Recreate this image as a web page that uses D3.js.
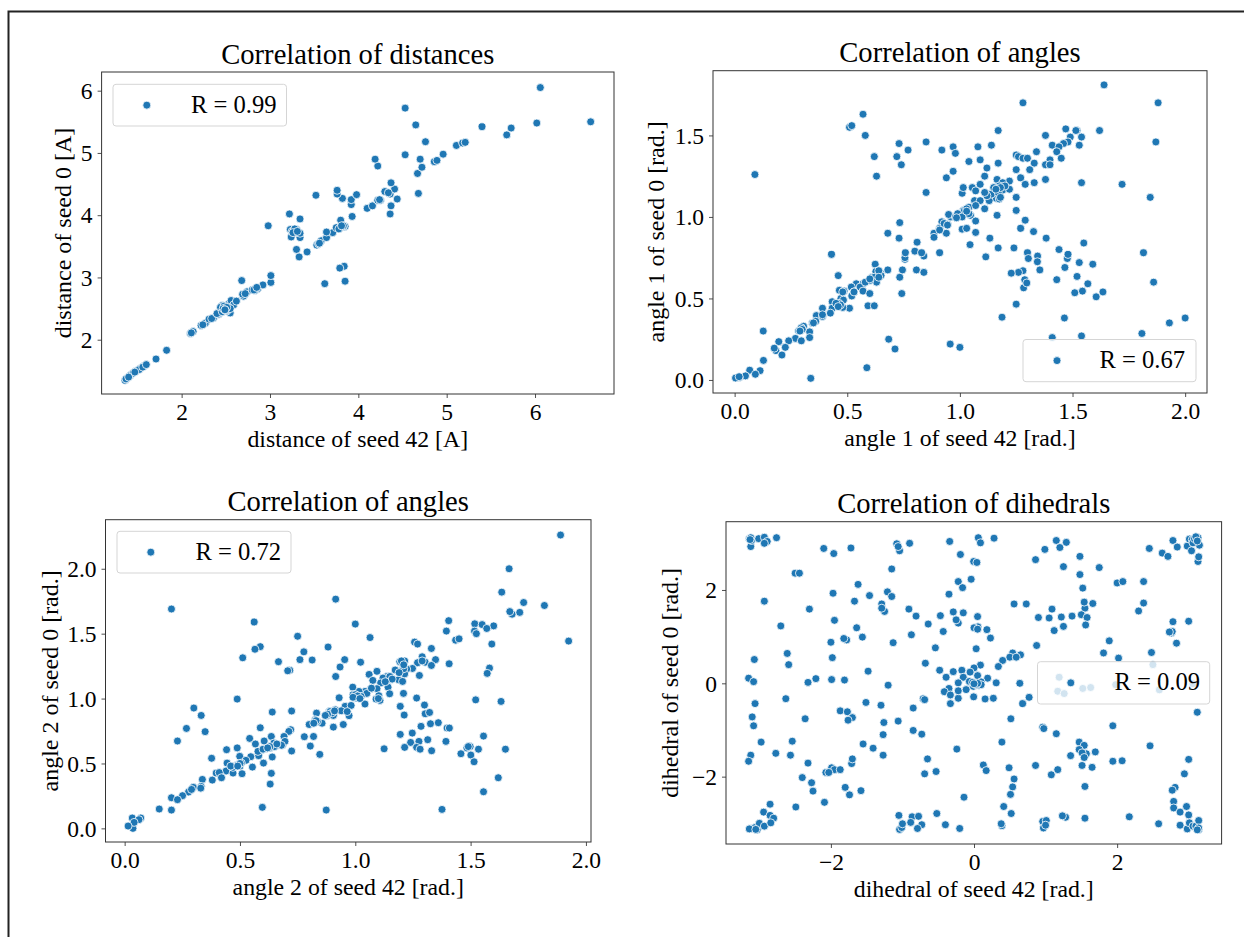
<!DOCTYPE html>
<html>
<head>
<meta charset="utf-8">
<script src="https://cdn.jsdelivr.net/npm/d3@7"></script>
<style>
  html, body { margin: 0; padding: 0; background: #fff; }
  text { font-family: "Liberation Serif", serif; fill: #000; }
</style>
</head>
<body>
<div id="chart"></div>
<script>
// [seed 42, seed 0] pairs
var distPairs = [[1.36,1.35],[1.39,1.39],[1.42,1.43],[1.49,1.50],[1.58,1.58],[1.54,1.54],[1.45,1.46],[1.71,1.69],[1.83,1.83],
  [2.10,2.10],[2.13,2.13],[2.22,2.23],[2.27,2.27],[2.31,2.33],[2.36,2.35],[2.42,2.41],[2.44,2.44],[2.55,2.43],[2.46,2.55],[2.52,2.50],
  [2.48,2.51],[2.53,2.57],[2.56,2.63],[2.59,2.56],[2.45,2.47],[2.51,2.46],[2.49,2.49],[2.62,2.62],[2.70,2.70],[2.69,2.73],[2.74,2.77],
  [2.80,2.80],[2.86,2.82],[2.83,2.79],[2.83,2.82],[2.92,2.88],[3.01,2.92],[3.01,3.03],[2.68,2.95],[2.98,3.83],
  [3.85,2.94],[3.62,2.90],[3.84,3.18],[3.79,3.15],[3.33,3.33],[3.42,3.41],[3.30,3.45],[3.53,3.52],[3.55,3.54],[3.58,3.59],
  [3.24,3.65],[3.34,3.64],[3.64,3.64],[3.71,3.72],[3.64,3.73],[3.34,3.71],[3.23,3.77],[3.30,3.77],[3.25,3.74],[3.27,3.75],
  [3.75,3.80],[3.80,3.81],[3.78,3.78],[3.85,3.82],[3.83,3.82],[3.80,3.92],[3.34,3.94],[3.22,4.02],[3.93,3.98],[4.36,4.02],
  [4.10,4.11],[4.16,4.15],[4.37,4.15],[3.92,4.17],[3.92,4.25],[3.82,4.27],[4.22,4.24],[4.25,4.24],[4.44,4.26],[3.52,4.32],[3.98,4.33],
  [3.76,4.34],[3.76,4.40],[4.36,4.34],[4.30,4.38],[4.41,4.42],[4.37,4.52],[4.68,4.35],[4.67,4.67],[4.72,4.77],[4.22,4.79],[4.86,4.86],
  [4.89,4.88],[4.19,4.90],[4.70,4.90],[4.53,4.97],[4.96,4.98],[5.11,5.12],[5.18,5.16],[5.21,5.17],[4.76,5.18],[5.68,5.29],[5.73,5.40],
  [5.40,5.42],[4.65,5.45],[6.02,5.48],[6.63,5.50],[4.53,5.72],[6.06,6.05]];
// overlapping dots in the crowded spots, drawn last
var distCrowd = [[1.37,1.37],[1.40,1.40],[1.52,1.52],[1.56,1.56],[1.60,1.60],[1.47,1.48],[2.11,2.11],[2.24,2.24],[2.34,2.34],[2.40,2.42],
  [2.44,2.52],[2.48,2.54],[2.53,2.52],[2.46,2.45],[2.50,2.47],[2.55,2.50],[2.47,2.50],[2.51,2.52],[2.49,2.48],[2.72,2.74],[2.82,2.80],[2.85,2.84],
  [3.28,3.78],[3.26,3.72],[3.31,3.74],[3.83,3.83],[3.81,3.83],[3.56,3.55],[4.24,4.25],[4.34,4.36],[2.49,2.48]];

var ang1Pairs = [[1.64,1.81],[1.88,1.70],[1.28,1.70],[0.57,1.63],[0.51,1.55],[0.52,1.56],[1.17,1.53],[1.47,1.54],[1.52,1.53],[1.515,1.53],[1.62,1.53],
  [0.58,1.50],[1.38,1.50],[1.49,1.49],[1.54,1.49],[1.87,1.46],[0.73,1.45],[0.85,1.46],[1.48,1.46],[1.46,1.45],[1.41,1.44],[1.53,1.44],[1.14,1.44],
  [1.08,1.43],[0.97,1.43],[0.92,1.41],[0.77,1.41],[1.44,1.43],[1.43,1.40],[1.34,1.40],[0.98,1.39],[0.72,1.37],[0.62,1.37],[1.25,1.38],[1.26,1.37],
  [1.28,1.36],[1.30,1.36],[1.45,1.36],[1.40,1.35],[1.04,1.34],[1.09,1.35],[1.17,1.33],[1.33,1.33],[0.74,1.32],[1.38,1.32],[1.40,1.32],[1.12,1.30],
  [1.31,1.29],[1.25,1.29],[0.97,1.28],[0.09,1.26],[1.11,1.25],[0.63,1.25],[1.27,1.24],[0.94,1.24],[1.165,1.23],[1.22,1.22],[1.33,1.21],[1.38,1.23],
  [1.09,1.20],[1.54,1.21],[1.29,1.20],[1.72,1.20],[1.19,1.21],[1.01,1.145],[1.015,1.18],[1.055,1.18],[1.07,1.16],[1.175,1.19],[1.15,1.165],[1.19,1.165],
  [1.22,1.17],[1.165,1.17],[0.85,1.15],[1.115,1.145],[1.125,1.135],[1.16,1.115],[1.175,1.11],[1.25,1.12],[1.845,1.12],[1.065,1.10],[1.09,1.10],[1.13,1.10],
  [1.04,1.06],[1.07,1.07],[1.11,1.05],[1.015,1.04],[1.03,1.03],[1.25,1.04],[1.165,1.01],[0.997,1.02],[0.96,1.0],[0.95,1.015],[1.047,1.01],[0.985,0.995],
  [1.29,0.98],[1.07,0.975],[0.733,0.965],[0.92,0.97],[0.945,0.955],[0.91,0.93],[1.01,0.925],[1.03,0.93],[1.27,0.93],[0.68,0.90],[1.07,0.905],[0.885,0.90],
  [0.94,0.90],[1.327,0.91],[0.885,0.875],[0.73,0.87],[1.133,0.87],[1.383,0.87],[0.81,0.845],[1.55,0.84],[1.045,0.83],[1.17,0.81],[1.24,0.81],[1.44,0.80],
  [0.80,0.79],[0.84,0.76],[0.83,0.78],[0.756,0.74],[0.756,0.75],[0.758,0.78],[0.91,0.78],[1.815,0.78],[1.30,0.78],[0.43,0.77],[1.115,0.755],[1.345,0.76],
  [1.477,0.745],[1.48,0.77],[1.304,0.745],[1.344,0.725],[1.53,0.72],[1.59,0.71],[0.624,0.71],[1.466,0.69],[0.807,0.675],[0.745,0.675],[0.68,0.675],
  [1.355,0.675],[1.28,0.67],[1.26,0.66],[1.228,0.655],[0.84,0.66],[0.638,0.67],[0.627,0.665],[0.648,0.655],[0.61,0.63],[0.64,0.635],[0.733,0.63],[0.46,0.64],
  [1.52,0.635],[1.43,0.615],[1.288,0.615],[1.568,0.59],[1.86,0.60],[1.283,0.565],[1.297,0.595],[0.54,0.59],[0.57,0.59],[0.518,0.57],[0.557,0.57],[0.465,0.55],
  [0.486,0.545],[0.53,0.54],[0.57,0.545],[0.60,0.53],[0.742,0.53],[1.544,0.545],[1.635,0.54],[1.51,0.535],[1.605,0.51],[0.52,0.515],[0.472,0.50],[0.483,0.49],
  [0.433,0.48],[0.45,0.46],[0.433,0.44],[0.463,0.47],[1.25,0.465],[0.592,0.455],[0.62,0.455],[0.51,0.44],[0.48,0.445],[0.39,0.44],[0.363,0.395],[0.425,0.41],
  [0.39,0.39],[1.187,0.385],[1.464,0.38],[2.0,0.38],[1.93,0.35],[0.345,0.35],[0.284,0.30],[0.306,0.33],[0.296,0.32],[0.127,0.30],[0.333,0.295],[1.808,0.285],
  [1.54,0.27],[1.41,0.26],[0.333,0.26],[0.27,0.255],[0.296,0.24],[0.24,0.24],[0.196,0.235],[0.684,0.25],[0.225,0.20],[0.183,0.18],[0.176,0.195],[0.957,0.22],
  [1.0,0.20],[0.712,0.19],[0.21,0.153],[0.128,0.12],[0.587,0.075],[0.067,0.06],[0.113,0.057],[0.092,0.035],[0.048,0.025],[0.338,0.01],[0.02,0.015],[0.004,0.012]];
var ang1Crowd = [[1.14,1.14],[1.15,1.18],[1.20,1.19],[1.12,1.13],[1.17,1.15],[1.18,1.12],[1.18,1.18],[1.11,1.15],[1.16,1.17],[0.98,1.0],[1.0,1.01],[1.02,1.04],[0.99,1.02],
  [1.03,1.05],[1.01,1.0],[1.04,1.02],[0.985,0.995],[1.03,1.035],[0.91,0.92],[0.93,0.96],[0.945,0.95],[0.64,0.65],[0.65,0.64],[0.62,0.63],[0.63,0.60],[0.60,0.61],[0.64,0.67],[0.58,0.60],
  [0.60,0.62],[0.64,0.63],[0.47,0.46],[0.45,0.47],[0.46,0.45],[0.53,0.54],[0.48,0.54],[0.36,0.36],[0.35,0.35],[0.39,0.40],[0.30,0.31],[0.29,0.30],[0.02,0.02]];

var ang2Pairs = [[1.89,2.26],[1.667,2.0],[1.635,1.82],[0.915,1.766],[1.73,1.74],[1.82,1.717],[0.203,1.69],[1.68,1.65],[1.67,1.67],[1.713,1.664],[0.562,1.59],
  [1.405,1.60],[1.0,1.574],[1.518,1.576],[1.55,1.57],[1.6,1.56],[1.57,1.54],[1.395,1.52],[1.517,1.52],[1.525,1.50],[0.75,1.48],[1.064,1.47],[1.435,1.45],[1.45,1.46],
  [1.925,1.443],[1.257,1.435],[1.27,1.42],[1.592,1.42],[0.588,1.40],[0.565,1.38],[0.882,1.397],[1.33,1.386],[0.777,1.36],[1.29,1.322],[0.512,1.314],[0.76,1.30],
  [1.348,1.30],[0.954,1.30],[0.813,1.297],[1.193,1.284],[1.214,1.29],[0.667,1.284],[1.023,1.28],[1.27,1.276],[1.303,1.28],[1.407,1.268],[1.33,1.255],[0.934,1.243],
  [1.248,1.232],[1.582,1.235],[1.173,1.22],[1.205,1.222],[1.223,1.227],[0.716,1.218],[0.707,1.214],[1.094,1.21],[1.572,1.194],[1.214,1.19],[1.06,1.186],[1.278,1.178],
  [0.915,1.17],[1.137,1.17],[1.12,1.158],[1.154,1.145],[1.188,1.145],[1.205,1.132],[1.076,1.14],[1.11,1.12],[1.142,1.088],[1.068,1.076],[1.094,1.076],[1.042,1.055],
  [1.016,1.055],[0.989,1.088],[1.209,1.04],[1.149,1.037],[1.05,1.04],[1.107,0.986],[1.09,0.996],[1.102,1.022],[0.99,1.03],[1.025,1.017],[1.004,1.004],[0.93,1.006],
  [1.266,1.004],[0.488,0.996],[1.522,0.99],[1.632,0.978],[1.042,0.958],[0.956,0.94],[0.982,0.947],[1.3,0.95],[1.195,0.94],[0.30,0.927],[0.913,0.914],[0.939,0.906],
  [0.973,0.868],[0.965,0.90],[0.879,0.87],[0.905,0.87],[0.887,0.90],[0.724,0.904],[0.64,0.896],[0.832,0.888],[1.303,0.883],[1.322,0.893],[0.332,0.87],[1.212,0.873],
  [0.827,0.837],[0.856,0.81],[0.836,0.824],[1.36,0.814],[1.326,0.806],[0.948,0.80],[0.80,0.80],[1.398,0.773],[1.408,0.773],[1.285,0.786],[0.905,0.78],[0.588,0.775],
  [0.268,0.77],[0.72,0.76],[0.712,0.747],[0.349,0.745],[1.247,0.734],[1.195,0.724],[0.691,0.708],[0.779,0.706],[0.819,0.708],[1.556,0.711],[0.636,0.708],[0.542,0.693],
  [0.229,0.673],[1.393,0.67],[1.276,0.67],[1.314,0.683],[1.24,0.662],[0.605,0.673],[0.567,0.65],[0.664,0.64],[0.684,0.64],[0.695,0.67],[0.647,0.657],[0.63,0.62],[0.65,0.63],
  [0.805,0.634],[1.214,0.624],[1.266,0.624],[1.281,0.61],[1.498,0.63],[1.484,0.62],[1.534,0.61],[0.442,0.606],[0.488,0.62],[1.125,0.613],[1.651,0.61],[1.331,0.598],
  [0.724,0.596],[0.595,0.606],[0.612,0.613],[0.581,0.56],[0.578,0.593],[1.458,0.575],[1.501,0.565],[0.846,0.57],[0.499,0.555],[0.547,0.552],[0.64,0.55],[0.377,0.54],
  [0.526,0.524],[0.444,0.503],[0.466,0.478],[0.483,0.483],[0.50,0.478],[0.506,0.503],[1.515,0.513],[0.602,0.503],[0.554,0.472],[0.44,0.442],[0.47,0.426],[0.509,0.421],
  [0.38,0.372],[0.397,0.426],[0.418,0.40],[0.636,0.424],[0.337,0.377],[1.62,0.39],[0.631,0.341],[0.332,0.323],[0.298,0.316],[0.277,0.28],[0.251,0.252],[0.203,0.236],
  [0.229,0.221],[1.556,0.282],[0.597,0.162],[0.15,0.149],[1.376,0.146],[0.874,0.141],[0.203,0.141],[0.036,0.0],[0.07,0.08],[0.033,0.08],[0.062,0.067],[0.041,0.046],[0.015,0.018]];
var ang2Crowd = [[1.20,1.29],[1.21,1.23],[1.19,1.20],[1.21,1.26],[1.15,1.17],[1.16,1.15],[1.13,1.13],[1.10,1.00],[1.07,1.08],[1.0,1.03],[1.01,1.02],[0.99,1.01],[1.02,1.0],
  [0.89,0.90],[0.90,0.89],[0.88,0.88],[0.91,0.905],[0.87,0.87],[0.83,0.83],[0.82,0.81],[0.65,0.63],[0.68,0.64],[0.63,0.63],[0.66,0.65],[0.60,0.61],[0.62,0.62],[0.49,0.49],[0.47,0.47],
  [0.50,0.50],[0.46,0.48],[0.49,0.48],[0.33,0.31],[0.29,0.30],[1.49,0.63],[1.29,1.29],[0.41,0.43],[0.42,0.39]];

var dihedPairs = [[-3.14,3.10],[-3.12,2.93],[-3.11,3.06],[-3.01,3.10],[-2.93,3.13],[-2.89,3.04],[-2.93,3.0],[-2.76,3.12],[-2.10,2.89],[-1.96,2.78],[-1.72,2.90],[-1.08,2.99],
  [-1.04,2.84],[-1.06,2.93],[-0.90,3.0],[-0.34,3.04],[-0.19,2.76],[0.06,3.12],[0.09,3.01],[0.28,3.11],[-0.005,2.61],[0.04,2.59],[1.15,3.06],[1.20,2.91],[1.29,3.02],[0.99,2.87],
  [0.86,2.65],[1.48,2.72],[1.25,2.5],[1.75,2.48],[1.48,2.33],[2.45,2.89],[2.63,2.79],[2.71,2.72],[2.78,3.06],[2.84,2.92],[2.98,2.94],[3.01,3.09],[3.05,3.08],[3.04,2.84],
  [3.12,3.13],[3.15,2.96],[3.06,3.01],[3.13,2.61],[3.14,2.71],[-2.50,2.36],[-2.44,2.36],[-1.15,2.45],[-0.22,2.18],[-0.04,2.23],[-0.16,2.05],[-1.62,2.12],[1.52,2.04],[2.0,2.15],
  [2.08,2.18],[2.37,2.18],[-1.97,1.93],[-1.21,1.96],[-1.15,1.86],[-0.35,1.91],[-1.46,1.88],[-2.93,1.76],[-1.67,1.76],[0.56,1.7],[0.73,1.7],[1.55,1.61],[1.54,1.74],[1.66,1.71],
  [2.37,1.72],[-1.29,1.70],[-1.25,1.54],[-1.29,1.61],[-2.30,1.59],[-0.91,1.59],[1.09,1.59],[2.30,1.55],[-0.29,1.53],[-0.15,1.51],[-0.81,1.44],[-0.47,1.45],[0.05,1.43],[1.50,1.47],
  [1.37,1.44],[1.58,1.41],[0.90,1.41],[1.05,1.40],[1.22,1.42],[-1.95,1.35],[-0.22,1.29],[-0.25,1.36],[-0.64,1.27],[-2.70,1.23],[1.25,1.22],[1.56,1.25],[2.78,1.32],[3.0,1.33],
  [-1.64,1.19],[0.055,1.21],[0.0,1.19],[0.05,1.16],[0.18,1.15],[1.12,1.13],[-0.43,1.11],[2.76,1.08],[2.77,1.11],[2.73,1.10],[-0.875,1.04],[-1.56,0.99],[0.23,0.97],[-1.78,0.93],
  [-1.82,0.96],[1.89,0.91],[-2.0,0.88],[-1.13,0.87],[2.83,0.86],[0.875,0.81],[-0.54,0.76],[0.03,0.74],[-2.61,0.64],[1.81,0.65],[2.48,0.66],[0.54,0.65],[0.65,0.61],[0.50,0.56],
  [0.59,0.56],[-1.98,0.55],[2.02,0.54],[0.40,0.49],[-3.07,0.51],[-0.68,0.43],[-2.59,0.40],[2.50,0.40],[0.34,0.36],[0.09,0.39],[0.0,0.33],[-0.48,0.28],[-1.48,0.26],[-0.17,0.28],
  [-0.29,0.25],[-0.055,0.24],[0.05,0.165],[-0.39,0.13],[-0.15,0.13],[0.19,0.11],[-3.15,0.11],[-2.21,0.10],[-1.99,0.08],[-1.81,0.07],[-3.08,0.035],[-2.32,0.02],[-0.22,0.01],[-0.04,0.03],
  [-0.065,0.04],[0.10,0.03],[0.07,-0.04],[0.1,-0.03],[-0.01,-0.065],[0.03,-0.01],[0.31,0.01],[0.64,0.0],[1.35,0.01],[1.19,0.13],[1.17,-0.17],[1.26,-0.22],[1.52,-0.11],[1.63,-0.09],
  [1.98,-0.03],[2.59,-0.14],[3.06,-0.01],[-1.20,-0.04],[-0.35,-0.11],[-0.415,-0.18],[-0.33,-0.25],[-0.22,-0.32],[-0.22,-0.16],[-0.11,-0.135],[-0.005,-0.29],[0.155,-0.335],[0.27,-0.32],
  [-2.63,-0.33],[-0.71,-0.33],[-0.69,-0.35],[0.77,-0.30],[0.68,-0.435],[-3.06,-0.435],[-1.51,-0.41],[-1.30,-0.47],[-0.33,-0.435],[-0.85,-0.53],[-1.87,-0.59],[-1.77,-0.61],[3.12,-0.62],
  [-3.10,-0.72],[-1.70,-0.735],[-1.76,-0.79],[-2.36,-0.76],[0.515,-0.76],[-1.06,-0.81],[-1.26,-0.84],[-3.08,-0.91],[0.96,-0.94],[0.975,-0.97],[1.94,-0.91],[-0.85,-1.01],[-0.73,-1.09],
  [-1.27,-1.10],[1.15,-1.08],[-2.54,-1.24],[-2.975,-1.26],[0.39,-1.26],[1.47,-1.26],[2.46,-1.34],[1.54,-1.33],[-1.55,-1.30],[-1.41,-1.39],[-0.24,-1.41],[1.47,-1.42],[1.57,-1.51],
  [1.51,-1.49],[1.695,-1.47],[1.54,-1.59],[1.35,-1.55],[-2.77,-1.50],[-2.565,-1.54],[-3.12,-1.54],[-1.27,-1.54],[-1.71,-1.72],[-1.70,-1.62],[-0.65,-1.62],[3.0,-1.63],[-3.15,-1.67],
  [1.94,-1.67],[2.07,-1.66],[-2.32,-1.71],[0.13,-1.75],[1.51,-1.76],[0.86,-1.76],[0.49,-1.81],[1.65,-1.80],[-1.99,-1.81],[-1.95,-1.85],[-1.87,-1.85],[-2.07,-1.91],[-2.03,-1.91],
  [-0.53,-1.89],[0.17,-1.87],[-0.69,-1.94],[1.17,-1.85],[1.08,-1.96],[2.94,-1.94],[-2.40,-2.02],[0.56,-2.05],[-2.27,-2.13],[0.54,-2.22],[1.55,-2.21],[-1.80,-2.23],[-1.58,-2.30],
  [-2.25,-2.31],[2.81,-2.23],[2.77,-2.29],[0.51,-2.38],[-1.74,-2.39],[-0.14,-2.44],[2.79,-2.53],[-2.09,-2.55],[-2.85,-2.59],[-2.49,-2.65],[0.415,-2.64],[2.97,-2.64],[2.79,-2.67],
  [-2.94,-2.76],[2.88,-2.76],[-0.52,-2.79],[0.52,-2.79],[3.0,-2.82],[-2.85,-2.83],[-2.80,-2.89],[-1.05,-2.83],[-0.865,-2.86],[-0.775,-2.85],[1.28,-2.87],[1.235,-2.84],[2.17,-2.86],
  [1.55,-2.89],[0.96,-2.96],[1.01,-2.94],[0.97,-3.10],[1.0,-3.04],[-0.885,-2.98],[-1.04,-3.13],[-1.01,-3.09],[-1.0,-3.01],[-0.73,-3.03],[-0.79,-3.11],[-0.40,-3.03],[-0.20,-3.11],
  [0.39,-3.05],[0.38,-3.01],[2.58,-3.01],[2.88,-3.04],[2.98,-3.12],[3.01,-2.99],[3.06,-3.06],[3.14,-3.14],[3.10,-3.06],[3.14,-2.94],[-3.03,-3.14],[-3.13,-3.11],[-3.06,-3.09],
  [-3.0,-3.0],[-2.93,-3.06],[-2.84,-2.99]];
var dihedCrowd = [[-3.12,3.12],[-3.13,3.08],[3.13,3.12],[3.08,3.10],[3.10,3.14],[3.12,3.05],[3.14,-3.10],[3.12,-3.14],[-3.14,-3.12],[-3.05,-3.13],[0.03,-0.03],[0.05,0.0],[-0.02,0.02],[0.0,-0.01]];

var distTicksX = [2, 3, 4, 5, 6], distTicksY = [2, 3, 4, 5, 6];
var ang1TicksX = [0, 0.5, 1, 1.5, 2], ang1TicksY = [0, 0.5, 1, 1.5];
var ang2TicksX = [0, 0.5, 1, 1.5, 2], ang2TicksY = [0, 0.5, 1, 1.5, 2];
var dihedTicks = [-2, 0, 2];

var panels = [
  {box: [101.6, 614, 72, 394], xdom: [1.094, 6.894], ydom: [1.128, 6.3], pairs: distPairs.concat(distCrowd), xt: distTicksX, yt: distTicksY, fmt: "d",
   title: "Correlation of distances", xl: "distance of seed 42 [A]", yl: "distance of seed 0 [A]", ylOff: 31,
   r: "R = 0.99", leg: [113, 286.5, 84.3, 126], mark: 146.8, txt: 276.6},
  {box: [713, 1207, 70.7, 393], xdom: [-0.096, 2.097], ydom: [-0.08, 1.897], pairs: ang1Pairs.concat(ang1Crowd), xt: ang1TicksX, yt: ang1TicksY, fmt: ".1f",
   title: "Correlation of angles", xl: "angle 1 of seed 42 [rad.]", yl: "angle 1 of seed 0 [rad.]", ylOff: 49,
   r: "R = 0.67", leg: [1023, 1196, 339.5, 381.7], mark: 1057, txt: 1185},
  {box: [105.5, 591, 519.7, 842], xdom: [-0.083, 2.022], ydom: [-0.105, 2.378], pairs: ang2Pairs.concat(ang2Crowd), xt: ang2TicksX, yt: ang2TicksY, fmt: ".1f",
   title: "Correlation of angles", xl: "angle 2 of seed 42 [rad.]", yl: "angle 2 of seed 0 [rad.]", ylOff: 48,
   r: "R = 0.72", leg: [117, 291, 531.3, 573], mark: 150.8, txt: 281},
  {box: [726, 1221.6, 521.7, 844], xdom: [-3.466, 3.46], ydom: [-3.443, 3.463], pairs: dihedPairs.concat(dihedCrowd), xt: dihedTicks, yt: dihedTicks, fmt: "d",
   title: "Correlation of dihedrals", xl: "dihedral of seed 42 [rad.]", yl: "dihedral of seed 0 [rad.]", ylOff: 48.5,
   r: "R = 0.09", leg: [1037.5, 1209.7, 661.7, 704], mark: 1070.8, txt: 1200}
];

var svg = d3.select("#chart").append("svg")
    .attr("width", 1244)
    .attr("height", 937)
    .style("display", "block");

// stray frame of the page the figure was cut from
svg.append("path")
    .attr("d", "M1244,11.5H8.5V937")
    .attr("fill", "none")
    .attr("stroke", "#222")
    .attr("stroke-width", 2);

function tickText(fmt) {
  var f = d3.format(fmt);
  return function(d) { return f(d).replace("-", "\u2212"); };
}

function draw_panel(p) {
  var x = d3.scaleLinear().domain(p.xdom).range([p.box[0], p.box[1]]);
  var y = d3.scaleLinear().domain(p.ydom).range([p.box[3], p.box[2]]);
  var g = svg.append("g");

  g.append("g").selectAll("circle")
      .data(p.pairs)
      .enter().append("circle")
      .attr("cx", function(d) { return x(d[0]); })
      .attr("cy", function(d) { return y(d[1]); })
      .attr("r", 4)
      .attr("fill", "#1f77b4")
      .attr("stroke", "#fff")
      .attr("stroke-width", 0.8);

  var xAxis = g.append("g")
      .attr("transform", "translate(0," + p.box[3] + ")")
      .call(d3.axisBottom(x).tickValues(p.xt).tickSizeOuter(0).tickSize(4).tickFormat(tickText(p.fmt)));
  xAxis.selectAll("text").attr("y", 26).attr("dy", 0);

  var yAxis = g.append("g")
      .attr("transform", "translate(" + p.box[0] + ",0)")
      .call(d3.axisLeft(y).tickValues(p.yt).tickSizeOuter(0).tickSize(4).tickFormat(tickText(p.fmt)));
  yAxis.selectAll("text").attr("x", -9).attr("dy", "0.33em");

  g.selectAll(".tick text").style("font-size", "23.5px").style("font-family", '"Liberation Serif", serif');
  g.selectAll(".tick line").attr("stroke", "#222").attr("stroke-width", 0.8);
  g.selectAll(".domain").remove();

  // spines
  g.append("rect")
      .attr("x", p.box[0])
      .attr("y", p.box[2])
      .attr("width", p.box[1] - p.box[0])
      .attr("height", p.box[3] - p.box[2])
      .attr("fill", "none")
      .attr("stroke", "#333")
      .attr("stroke-width", 1);

  var midX = (p.box[0] + p.box[1]) / 2, midY = (p.box[2] + p.box[3]) / 2;
  g.append("text")
      .attr("x", midX)
      .attr("y", p.box[2] - 8.5)
      .attr("text-anchor", "middle")
      .style("font-size", "28.6px")
      .text(p.title);
  g.append("text")
      .attr("x", midX)
      .attr("y", p.box[3] + 52.5)
      .attr("text-anchor", "middle")
      .style("font-size", "23.8px")
      .text(p.xl);
  g.append("text")
      .attr("transform", "translate(" + (p.box[0] - p.ylOff) + "," + midY + ") rotate(-90)")
      .attr("text-anchor", "middle")
      .style("font-size", "24px")
      .text(p.yl);

  // legend sits over the points, semi transparent like matplotlib's
  var midLeg = (p.leg[2] + p.leg[3]) / 2;
  g.append("rect")
      .attr("x", p.leg[0])
      .attr("y", p.leg[2])
      .attr("width", p.leg[1] - p.leg[0])
      .attr("height", p.leg[3] - p.leg[2])
      .attr("rx", 3)
      .attr("fill", "#fff")
      .attr("fill-opacity", 0.8)
      .attr("stroke", "#d5d5d5")
      .attr("stroke-width", 1);
  g.append("circle")
      .attr("cx", p.mark)
      .attr("cy", midLeg)
      .attr("r", 4)
      .attr("fill", "#1f77b4")
      .attr("stroke", "#fff")
      .attr("stroke-width", 0.8);
  g.append("text")
      .attr("x", p.txt)
      .attr("y", midLeg + 7.5)
      .attr("text-anchor", "end")
      .style("font-size", "24.6px")
      .text(p.r);
}

panels.forEach(draw_panel);
</script>
</body>
</html>
